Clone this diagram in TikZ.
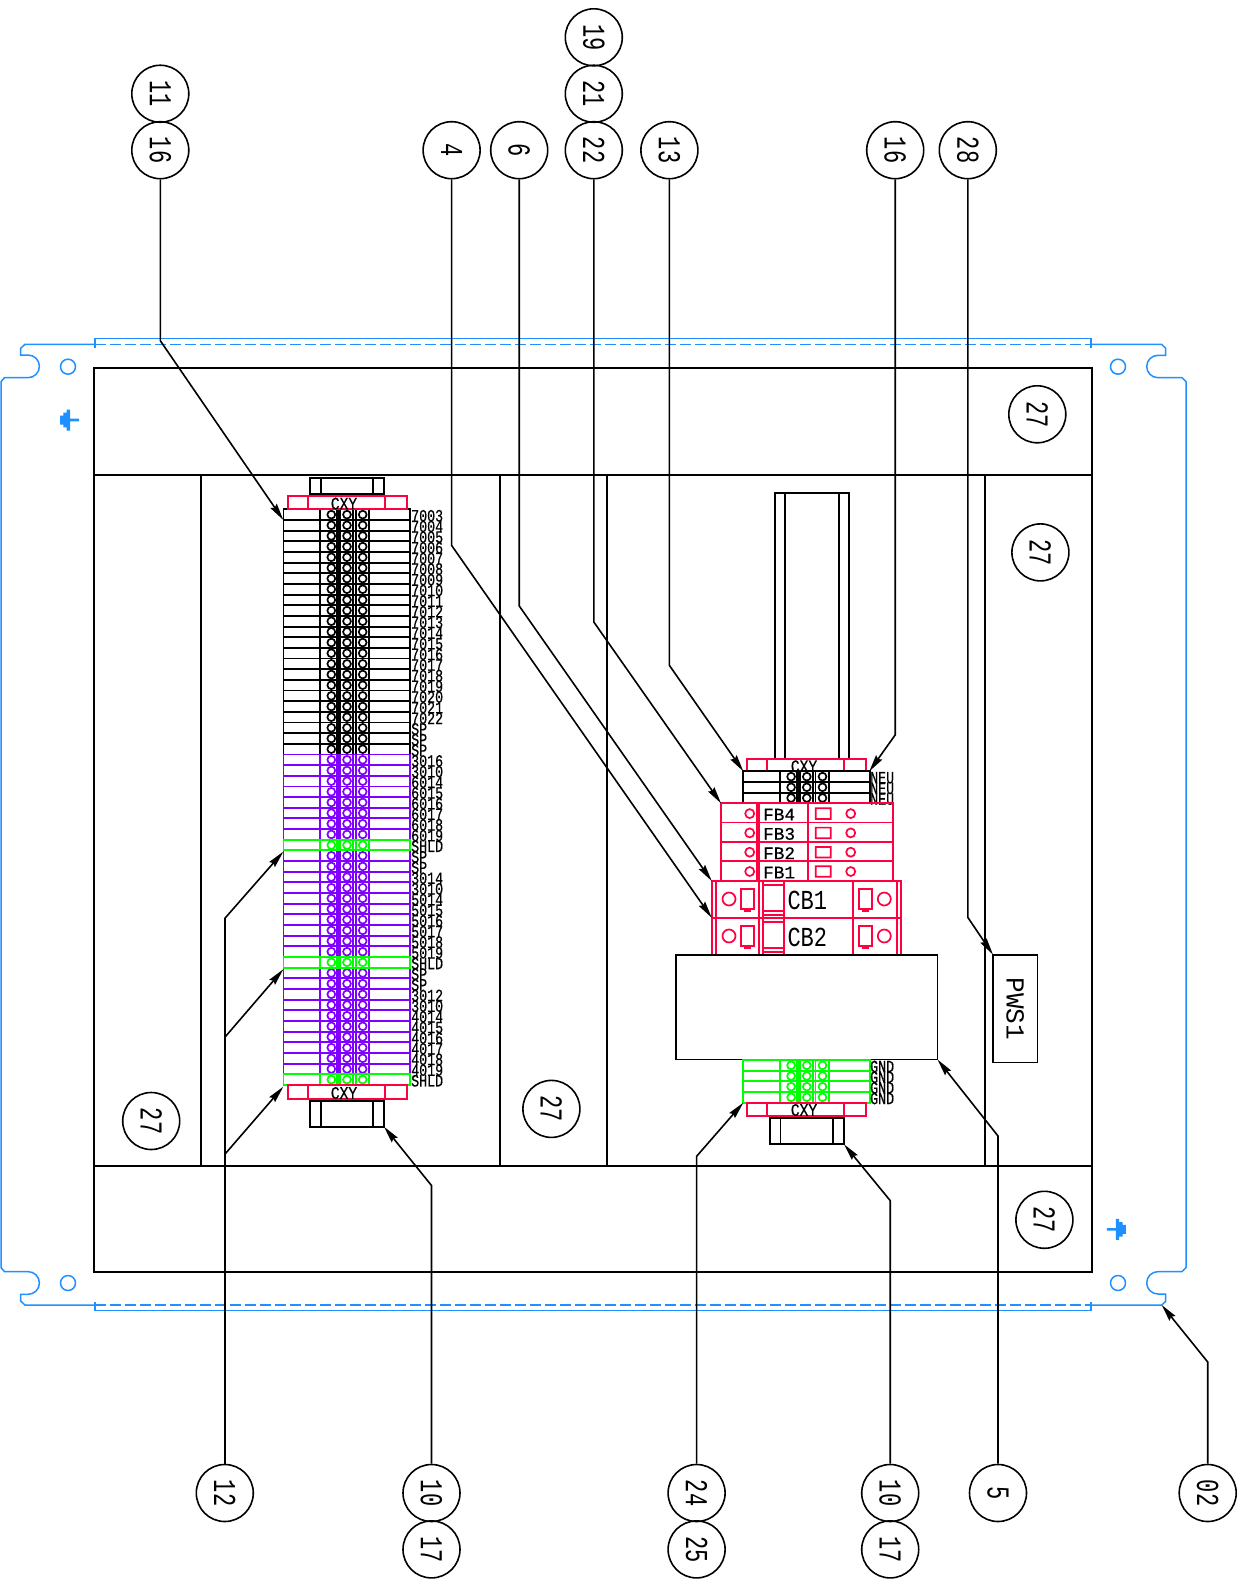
\documentclass[tikz,border=0pt]{standalone}
\usepackage{fontspec}
\usepackage{graphicx}
\newfontfamily\cadfont{Liberation Mono}
\newfontfamily\labfont[FakeBold=0.5]{Liberation Mono}
\usetikzlibrary{arrows.meta}
\definecolor{cadred}{HTML}{FF0040}
\definecolor{cadpur}{HTML}{8000FF}
\definecolor{cadgrn}{HTML}{00FF00}
\definecolor{cadblu}{HTML}{1E90FF}
\tikzset{
  callout/.style={draw=black,circle,line width=1.6pt,minimum size=57pt,inner sep=0pt,font=\cadfont\fontsize{22}{22}\selectfont},
  leader/.style={draw=black,line width=1.6pt,-{Stealth[length=17pt,width=7.5pt,inset=2pt]}},
  plainlead/.style={draw=black,line width=1.6pt},
  frameline/.style={draw=black,line width=1.9pt},
  partline/.style={line width=1.9pt},
  redbox/.style={draw=cadred,line width=1.7pt},
  blueline/.style={draw=cadblu,line width=1.5pt},
  cad/.style={inner sep=0pt,font=\cadfont,text=black},
  rowlabel/.style={cad,anchor=west,font=\labfont\fontsize{13.3}{13.3}\selectfont},
}
% one terminal row: #1 colour, #2 x offset, #3 top y
\newcommand{\tbrow}[3]{%
  \begin{scope}[xshift=#2pt,yshift=-#3pt]
    \draw[#1,partline] (283.5,0) rectangle (410,10.66);
    \draw[#1,partline] (320,0) -- (320,10.66) (353.3,0) -- (353.3,10.66) (355.7,0) -- (355.7,10.66) (369.3,0) -- (369.3,10.66);
    \fill[#1] (335.7,0) rectangle (340.7,10.66);
    \foreach \cx in {331.3,347,362.7}{\draw[#1,fill=white,line width=1.7pt] (\cx,5.33) circle[radius=3.9pt];}
  \end{scope}}
\newcommand{\cxybox}[3]{% #1 x offset, #2 top y, #3 bottom y ; red bracket
  \begin{scope}[xshift=#1pt]
    \draw[redbox] (288.3,#2) rectangle (406.7,#3) (307.7,#2) -- (307.7,#3) (385.3,#2) -- (385.3,#3);
  \end{scope}}
\newcommand{\capblock}[3]{% #1 x offset, #2 top, #3 bottom
  \begin{scope}[xshift=#1pt]
    \draw[black,partline] (310,#2) rectangle (384,#3) (320.7,#2) -- (320.7,#3) (373.3,#2) -- (373.3,#3);
  \end{scope}}
\newcommand{\cxy}[3]{\node[cad,font=\labfont\fontsize{14.6}{14.6}\selectfont] (#1) at (#2,#3) {\scalebox{1}[1.2]{CXY}};}
\newcommand{\call}[4]{\node[callout] (#1) at (#2,#3) {\rotatebox{-90}{\scalebox{1}[1.45]{#4}}};}
\newcommand{\fbrow}[3]{% #1 name #2 top y #3 text
  \draw[redbox] (721,#2) rectangle (892.7,#2+19.3) (756.7,#2) -- (756.7,#2+19.3) (759.3,#2) -- (759.3,#2+19.3) (808.3,#2) -- (808.3,#2+19.3);
  \draw[redbox] (749.7,#2+10.3) circle[radius=4.5pt] (850.7,#2+10.3) circle[radius=4.5pt] (815.7,#2+5) rectangle (830.7,#2+15.6);
  \node[cad,anchor=west,font=\labfont\fontsize{17.7}{17.7}\selectfont] (#1) at (763,#2+11.3) {#3};}
\newcommand{\cbrow}[3]{% #1 name #2 top y #3 text
  \draw[redbox] (711.7,#2) rectangle (901.3,#2+37) (715.7,#2) -- (715.7,#2+37) (897.3,#2) -- (897.3,#2+37);
  \draw[redbox] (759,#2) -- (759,#2+37) (763.3,#2) -- (763.3,#2+37) (784.3,#2) -- (784.3,#2+37) (853.3,#2) -- (853.3,#2+37);
  \draw[redbox] (763.3,#2+4.3) -- (784.3,#2+4.3) (763.3,#2+30.3) -- (784.3,#2+30.3) (763.3,#2+34.3) -- (784.3,#2+34.3);
  \draw[redbox] (729,#2+18.3) circle[radius=6.5pt] (884.3,#2+18.3) circle[radius=6.5pt];
  \draw[redbox] (741,#2+8.6) rectangle (754.3,#2+28.6) (745,#2+28.6) rectangle (750,#2+30.6);
  \draw[redbox] (859,#2+8.6) rectangle (872.3,#2+28.6) (863,#2+28.6) rectangle (868,#2+30.6);
  \node[cad,anchor=west,font=\cadfont\fontsize{22}{22}\selectfont] (#1) at (787.3,#2+20) {\scalebox{1}[1.25]{#3}};}
\newcommand{\gndsym}[3]{% #1 x, #2 y, #3 direction (+1 stub to right, -1 to left)
  \begin{scope}[shift={(#1pt,-#2pt)},xscale=#3]
    \fill[cadblu] (-8.3,-4.5) rectangle (-5,4.5) (-5,-7.3) rectangle (-1.6,7.3) (-1.6,-10.5) rectangle (1.7,10.5) (1.7,-1.3) rectangle (10.7,1.3);
  \end{scope}}
\begin{document}
\begin{tikzpicture}[x=1pt,y=-1pt]
\path[use as bounding box,fill=white] (0,0) rectangle (1246,1581);
% mounting plate
\draw[blueline] (95,344.3) -- (25,344.3) -- (20.7,348.3) -- (20.7,355) -- (28,355)
  .. controls (34.3,355) and (39.4,360) .. (39.4,366.35) .. controls (39.4,372.6) and (34.3,377.7) .. (28,377.7)
  -- (4.5,377.7) -- (1,381.7) -- (1,1267.6) -- (4.5,1271.6) -- (28,1271.6)
  .. controls (34.3,1271.6) and (39.4,1276.7) .. (39.4,1283) .. controls (39.4,1289.3) and (34.3,1294.3) .. (28,1294.3)
  -- (20.7,1294.3) -- (20.7,1301) -- (25,1305) -- (95,1305);
\draw[blueline] (1091,344.3) -- (1161.7,344.3) -- (1165.7,348.3) -- (1165.7,355.3) -- (1158,355.3)
  .. controls (1151.7,355.3) and (1146.7,360.3) .. (1146.7,366.5) .. controls (1146.7,372.7) and (1151.7,377.7) .. (1158,377.7)
  -- (1182,377.7) -- (1186,381.7) -- (1186,1267.6) -- (1182,1271.6) -- (1158,1271.6)
  .. controls (1151.7,1271.6) and (1146.7,1276.7) .. (1146.7,1283) .. controls (1146.7,1289) and (1151.7,1294) .. (1158,1294)
  -- (1165.7,1294) -- (1165.7,1301.3) -- (1161.7,1305) -- (1091,1305);
\draw[blueline] (95,348) -- (95,338.3) -- (1091,338.3) -- (1091,348);
\draw[blueline] (95,1301.7) -- (95,1310.7) -- (1091,1310.7) -- (1091,1301.7);
\draw[blueline,dash pattern=on 11pt off 4pt] (95,344.3) -- (1091,344.3) (95,1305) -- (1091,1305);
\draw[blueline] (68,366.7) circle[radius=7.5pt] (1118,366.7) circle[radius=7.5pt] (68,1283) circle[radius=7.5pt] (1118,1283) circle[radius=7.5pt];
\gndsym{68.3}{420}{1}
\gndsym{1117.5}{1229.3}{-1}
% panel frame
\draw[frameline] (93.75,368) rectangle (1091.7,1272.2);
\draw[frameline] (93.75,474.8) -- (1091.7,474.8) (93.75,1166.4) -- (1091.7,1166.4);
\draw[frameline] (200.6,474.8) -- (200.6,1166.4) (500,474.8) -- (500,1166.4) (606.9,474.8) -- (606.9,1166.4) (985,474.8) -- (985,1166.4);
% left terminal strip
\foreach \n in {0,...,22}{\pgfmathsetmacro\ty{509.3+\n*10.66}\tbrow{black}{0}{\ty}}
\foreach \n in {23,...,30,32,33,...,41,43,44,...,52}{\pgfmathsetmacro\ty{509.3+\n*10.66}\tbrow{cadpur}{0}{\ty}}
\foreach \n in {31,42,53}{\pgfmathsetmacro\ty{509.3+\n*10.66}\tbrow{cadgrn}{0}{\ty}}
\foreach \txt [count=\n from 0] in {7003,7004,7005,7006,7007,7008,7009,7010,7011,7012,7013,7014,7015,7016,7017,7018,7019,7020,7021,7022,SP,SP,SP,3016,3010,6014,6015,6016,6017,6018,6019,SHLD,SP,SP,3014,3010,5014,5015,5016,5017,5018,5019,SHLD,SP,SP,3012,3010,4014,4015,4016,4017,4018,4019,SHLD}{
  \pgfmathsetmacro\ty{515.8+\n*10.66}
  \node[rowlabel] (lab\n) at (411,\ty) {\scalebox{1}[1.3]{\txt}};
}
\cxybox{0}{496}{509.3}
\cxybox{0}{1085}{1098.7}
\cxy{cxya}{344}{503.6}
\cxy{cxyb}{344}{1093}
\capblock{0}{478}{494.3}
\capblock{0}{1100.7}{1126.7}
% DIN rail
\draw[black,partline] (775,493) rectangle (849,758.7) (785,493) -- (785,758.7) (838.8,493) -- (838.8,758.7);
\cxybox{459}{758.7}{771.3}
\cxy{cxyc}{804}{766.3}
\foreach \n in {0,1,2}{\pgfmathsetmacro\ty{771.3+\n*10.66}\tbrow{black}{459.8}{\ty}
  \node[rowlabel] (neu\n) at (870,\ty+6.5) {\scalebox{1}[1.3]{NEU}};}
\fbrow{fb4}{803.3}{FB4}
\fbrow{fb3}{822.6}{FB3}
\fbrow{fb2}{841.9}{FB2}
\fbrow{fb1}{861.2}{FB1}
\cbrow{cb1}{880.7}{CB1}
\cbrow{cb2}{917.7}{CB2}
\draw[frameline] (676.4,954.7) rectangle (937.5,1059.5);
\node[draw=black,line width=1.7pt,minimum width=44.3pt,minimum height=107.8pt,inner sep=0pt,font=\cadfont\fontsize{26}{26}\selectfont] (pws) at (1015.2,1008.6) {\rotatebox{-90}{PWS1}};
\foreach \n in {0,...,3}{\pgfmathsetmacro\ty{1060+\n*10.66}\tbrow{cadgrn}{459.8}{\ty}
  \node[rowlabel] (gnd\n) at (870,\ty+6.5) {\scalebox{1}[1.3]{GND}};}
\cxybox{459}{1102.7}{1115.7}
\cxy{cxyd}{804}{1110}
\capblock{459.8}{1118.3}{1144.3}
% callouts
\call{c11}{160.3}{93.75}{11}
\call{c16a}{160.3}{150.2}{16}
\call{c4}{451.6}{150.2}{4}
\call{c6}{519.2}{150.2}{6}
\call{c19}{593.8}{37.3}{19}
\call{c21}{593.8}{93.75}{21}
\call{c22}{593.8}{150.2}{22}
\call{c13}{669.4}{150.2}{13}
\call{c16b}{895.2}{150.2}{16}
\call{c28}{967.8}{150.2}{28}
\call{p1}{1037.3}{414.3}{27}
\call{p2}{1040.4}{552.4}{27}
\call{p3}{1044.4}{1219.8}{27}
\call{p4}{151.2}{1121}{27}
\call{p5}{551.4}{1108.9}{27}
\call{c12}{224.8}{1493}{12}
\call{c10a}{431.5}{1493}{10}
\call{c17a}{431.5}{1549.4}{17}
\call{c24}{696.6}{1493}{24}
\call{c25}{696.6}{1549.4}{25}
\call{c10b}{890.2}{1493}{10}
\call{c17b}{890.2}{1549.4}{17}
\call{c5}{998}{1493}{5}
\call{c02}{1207.7}{1493}{02}
% leader targets and bends
\coordinate (t11) at (283.3,520);
\coordinate (t4) at (711.7,917.7);
\coordinate (t6) at (711.7,881);
\coordinate (t22) at (721,803.3);
\coordinate (t13) at (743.3,771.3);
\coordinate (t16) at (869.3,771.3);
\coordinate (t28) at (993,954.7);
\coordinate (t12a) at (283.3,851.7);
\coordinate (t12b) at (283.3,969.3);
\coordinate (t12c) at (283.3,1086.7);
\coordinate (t10a) at (384,1126.7);
\coordinate (t24) at (743.3,1102.7);
\coordinate (t10b) at (844,1144.3);
\coordinate (t5) at (937.5,1059.5);
\coordinate (t02) at (1161.7,1305);
\coordinate (b12a) at (224.8,918.4);
\coordinate (b12b) at (224.8,1037.3);
\coordinate (b12c) at (224.8,1154.3);
\draw[leader] (c16a.south) -- (160.3,340.7) -- (t11);
\draw[leader] (c4.south) -- (451.6,545.4) -- (t4);
\draw[leader] (c6.south) -- (519.2,605.9) -- (t6);
\draw[leader] (c22.south) -- (593.8,622) -- (t22);
\draw[leader] (c13.south) -- (669.4,665.4) -- (t13);
\draw[leader] (c16b.south) -- (895.2,734.9) -- (t16);
\draw[leader] (c28.south) -- (967.8,917.4) -- (t28);
\draw[plainlead] (c12.north) -- (b12a);
\draw[leader] (b12a) -- (t12a);
\draw[leader] (b12b) -- (t12b);
\draw[leader] (b12c) -- (t12c);
\draw[leader] (c10a.north) -- (431.5,1185.5) -- (t10a);
\draw[leader] (c24.north) -- (696.6,1156.3) -- (t24);
\draw[leader] (c10b.north) -- (890.2,1200.6) -- (t10b);
\draw[leader] (c5.north) -- (998,1136) -- (t5);
\draw[leader] (c02.north) -- (1207.7,1362) -- (t02);
\end{tikzpicture}
\end{document}
